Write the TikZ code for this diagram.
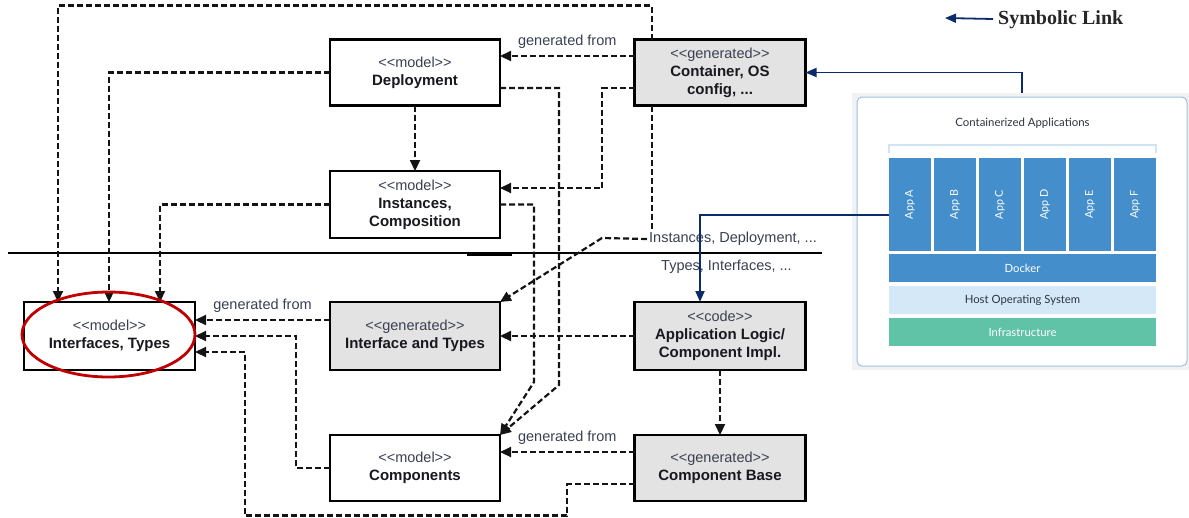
\documentclass[tikz,border=0pt]{standalone}
\usepackage{fontspec}
\usepackage{graphicx}
\usetikzlibrary{arrows.meta,shapes.geometric,calc}
\newfontfamily\diagfont{Liberation Sans}
\newfontfamily\panelfont{Lato}
\newfontfamily\legendfont{Liberation Serif}
\definecolor{stereo}{HTML}{3A4052}
\definecolor{labelink}{HTML}{18181E}
\definecolor{boxgray}{HTML}{E3E3E3}
\definecolor{navy}{HTML}{0B2C6B}
\definecolor{ringred}{HTML}{C00000}
\definecolor{panelbg}{HTML}{F1F2F4}
\definecolor{panelline}{HTML}{9DC1E2}
\definecolor{appblue}{HTML}{448ECC}
\definecolor{hostblue}{HTML}{D5E8F8}
\definecolor{infragreen}{HTML}{60C2A6}
\definecolor{bracketblue}{HTML}{D0E4F5}
\definecolor{paneltext}{HTML}{2E3440}
\newcommand{\stype}[1]{{\fontsize{14.5}{18}\selectfont\color{stereo}#1}}
\tikzset{
  modelbox/.style={draw=black, line width=2.8pt, rectangle, inner sep=0pt, outer sep=0pt,
    fill=white, align=center, font={\diagfont\fontsize{15}{18}\selectfont}, text=labelink},
  genbox/.style={modelbox, fill=boxgray},
  depline/.style={draw=black!92, line width=2.2pt, dash pattern=on 6pt off 3pt},
  deparrow/.style={depline, -{Triangle[length=11pt,width=10pt]}},
  edgelabel/.style={font={\diagfont\fontsize{14.5}{17}\selectfont}, text=stereo, inner sep=2pt},
  navylink/.style={draw=navy, line width=1.8pt, -{Triangle[length=11pt,width=9pt]}},
  layer/.style={rectangle, inner sep=0pt, minimum width=267pt, minimum height=28pt,
    font={\panelfont\fontsize{11.3}{13}\selectfont}},
  appcol/.style={rectangle, fill=appblue, inner sep=0pt, minimum width=42pt, minimum height=93pt,
    text=white, font={\panelfont\fontsize{10.8}{12}\selectfont}},
}
\begin{document}
\begin{tikzpicture}[x=1pt,y=-1pt]
\useasboundingbox (0,0) rectangle (1189,517);

% ---- container stack panel ----
\node[rectangle, fill=panelbg, minimum width=337pt, minimum height=277pt, inner sep=0pt,
  anchor=north west] (panel) at (852,93) {};
\node[rectangle, draw=panelline, line width=1pt, fill=white, rounded corners=5pt,
  minimum width=330pt, minimum height=269pt, inner sep=0pt] (panelin) at (1022,231.5) {};
\node[font={\panelfont\fontsize{11.4}{13}\selectfont}, text=paneltext] (ptitle) at (1022.5,123) {Containerized Applications};
\draw[bracketblue, line width=1.5pt] (889,153) -- (889,145) -- (1156,145) -- (1156,153);
\foreach \l [count=\i from 0] in {A,B,C,D,E,F}
  \node[appcol] (capp\l) at ({910+45*\i},204.5) {\rotatebox{90}{App \l}};
\node[layer, fill=appblue, text=white] (docker) at (1022.5,268) {Docker};
\node[layer, fill=hostblue, text=paneltext] (hostos) at (1022.5,300) {Host Operating System};
\node[layer, fill=infragreen, text=white] (infra) at (1022.5,332) {Infrastructure};

% ---- model / artefact boxes ----
\node[modelbox, minimum width=170pt, minimum height=66pt] (deploy) at (415,72.5)
  {\stype{<<model>>}\\\textbf{Deployment}};
\node[modelbox, minimum width=170pt, minimum height=67pt] (inst) at (415,204.5)
  {\stype{<<model>>}\\\textbf{Instances,}\\\textbf{Composition}};
\node[genbox, minimum width=171pt, minimum height=66pt] (cont) at (720,72.5)
  {\stype{<<generated>>}\\\textbf{Container, OS}\\\textbf{config, ...}};
\node[modelbox, minimum width=171pt, minimum height=68pt] (ifc) at (109.5,336)
  {\stype{<<model>>}\\\textbf{Interfaces, Types}};
\node[genbox, minimum width=170pt, minimum height=68pt] (igen) at (415,336)
  {\stype{<<generated>>}\\\textbf{Interface and Types}};
\node[genbox, minimum width=171pt, minimum height=68pt] (logic) at (720,336)
  {\stype{<<code>>}\\\textbf{Application Logic/}\\\textbf{Component Impl.}};
\node[modelbox, minimum width=170pt, minimum height=66pt] (comp) at (415,468)
  {\stype{<<model>>}\\\textbf{Components}};
\node[genbox, minimum width=171pt, minimum height=66pt] (cbase) at (720,468)
  {\stype{<<generated>>}\\\textbf{Component Base}};

% ---- layer labels and separator ----
\node[edgelabel, anchor=west] (lblinst) at (647,239) {Instances, Deployment, ...};
\node[edgelabel, anchor=west] (lbltypes) at (659,267) {Types, Interfaces, ...};
\coordinate (sepL) at (8,253);
\coordinate (sepR) at (822,253);
\draw[line width=1.8pt] (sepL) -- (sepR);
\draw[line width=4pt] (467,254) -- (512,254);

% ---- dependency connectors ----
\draw[deparrow] ([xshift=17.5pt]cont.north west) -- ++(0,-34) -| ([xshift=34pt]ifc.north west);
\draw[deparrow] (deploy.west) -| ([xshift=85pt]ifc.north west);
\draw[deparrow] (inst.west) -| ([xshift=136pt]ifc.north west);
\draw[deparrow] ([yshift=16.5pt]cont.west) -- ([yshift=16.5pt]deploy.east)
  node[midway, edgelabel, above=4pt] {generated from};
\draw[deparrow] ([yshift=-15.5pt]deploy.east) -| (559,385) -- (comp.north east);
\draw[deparrow] ([yshift=-15.5pt]cont.west) -| (602,188) -- ([yshift=16.5pt]inst.east);
\draw[deparrow] (inst.east) -| (534,382) -- (comp.north east);
\draw[depline] ([xshift=17.5pt]cont.south west) -- ([xshift=17.5pt]cont.south west |- lblinst.north);
\draw[deparrow] (lblinst.west) -- (602,238) -- (igen.north east);
\draw[deparrow] (logic.west) -- (igen.east);
\draw[deparrow] ([yshift=16pt]igen.west) -- ([yshift=16pt]ifc.east)
  node[midway, edgelabel, above=4pt] {generated from};
\draw[deparrow] (comp.west) -| (296,336) -- (ifc.east);
\draw[deparrow] ([yshift=-16pt]cbase.west) -| (567,515.5) -| (245,352) -- ([yshift=-16pt]ifc.east);
\draw[deparrow] ([yshift=16pt]cbase.west) -- ([yshift=16pt]comp.east)
  node[midway, edgelabel, above=4pt] {generated from};
\draw[deparrow] (logic.south) -- (cbase.north);
\draw[deparrow] (deploy.south) -- (inst.north);

% ---- symbolic links ----
\coordinate (legtip) at (945,18);
\node[font={\legendfont\bfseries\fontsize{20}{24}\selectfont}, text=black!85, anchor=west, inner sep=0pt]
  (legend) at (998,20) {Symbolic Link};
\draw[navylink] ([xshift=-5pt,yshift=1pt]legend.west) -- (legtip);
\draw[navylink] (panelin.north |- panel.north) |- (cont.east);
\draw[navylink] ([yshift=-10.5pt]cappA.west) -| ([xshift=-20pt]logic.north);

% ---- highlight ring ----
\node[ellipse, draw=ringred, line width=2.8pt, minimum width=173pt, minimum height=85pt,
  inner sep=0pt] (ring) at (108.5,334.5) {};
\end{tikzpicture}
\end{document}
